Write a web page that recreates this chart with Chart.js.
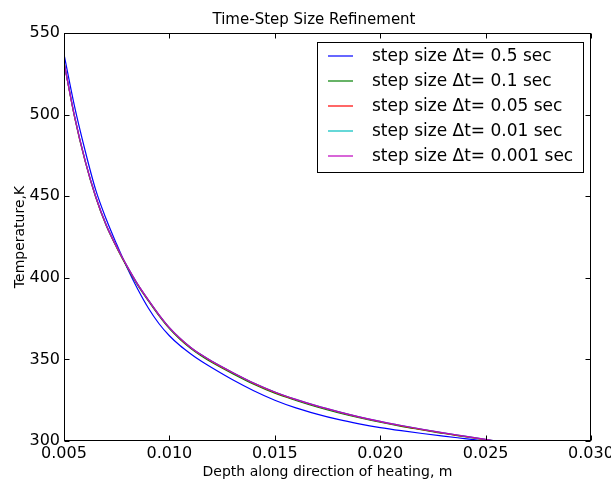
<!DOCTYPE html>
<html>
<head>
<meta charset="utf-8">
<script src="https://cdn.jsdelivr.net/npm/chart.js@4.4.1/dist/chart.umd.min.js"></script>
<style>
  html, body { margin: 0; padding: 0; background: #fff; }
  #wrap { width: 611px; height: 480px; }
</style>
</head>
<body>
<div id="wrap"><canvas id="chart" width="611" height="480"></canvas></div>
<script>
// depth (m) at which the curves were read
const depth = [0.005, 0.0055, 0.006, 0.0065, 0.007, 0.0075, 0.008, 0.0085, 0.009, 0.0095,
  0.010, 0.0105, 0.011, 0.0115, 0.012, 0.013, 0.014, 0.015, 0.016, 0.017,
  0.018, 0.019, 0.020, 0.021, 0.022, 0.023, 0.024, 0.025, 0.0255];

// temperature (K) for each time step
const temp05 = [537, 505, 478, 454, 436, 420.5, 406, 393, 381.5, 372,
  364.5, 358.5, 353.5, 349, 345, 337.5, 330.8, 325, 320.3, 316.5,
  313.2, 310.5, 308.2, 306.3, 304.6, 303, 301.5, 300, 299.2];
const temp01 = [532, 498.5, 471.5, 449.5, 432, 418.5, 406.3, 395.3, 385.8, 376.8,
  368.8, 362.3, 356.8, 352.3, 348.3, 341.3, 334.8, 329.3, 324.9, 320.9,
  317.4, 314.3, 311.5, 309, 306.8, 304.6, 302.7, 300.7, 299.7];
const temp005 = [532, 498.8, 471.8, 449.8, 432.3, 418.8, 406.8, 395.8, 386.3, 377.3,
  369.3, 362.8, 357.3, 352.8, 348.8, 341.8, 335.3, 329.8, 325.3, 321.3,
  317.8, 314.6, 311.8, 309.3, 307, 304.8, 302.8, 300.8, 299.8];
const temp001 = [532, 499, 472, 450, 432.5, 419, 407, 396, 386.5, 377.5,
  369.5, 363, 357.5, 353, 349, 342, 335.5, 330, 325.5, 321.5,
  318, 314.8, 312, 309.5, 307.2, 305, 303, 301, 300];
const temp0001 = [532, 499, 472, 450, 432.5, 419, 407, 396, 386.5, 377.5,
  369.5, 363, 357.5, 353, 349, 342, 335.5, 330, 325.5, 321.5,
  318, 314.8, 312, 309.5, 307.2, 305, 303, 301, 300];

const seriesNames = ["step size \u0394t= 0.5 sec", "step size \u0394t= 0.1 sec",
  "step size \u0394t= 0.05 sec", "step size \u0394t= 0.01 sec", "step size \u0394t= 0.001 sec"];
const seriesColors = ["#0000ff", "#008000", "#ff0000", "#00bfbf", "#bf00bf"];
const seriesTemps = [temp05, temp01, temp005, temp001, temp0001];

const xTicks = [0.005, 0.010, 0.015, 0.020, 0.025, 0.030];
const yTicks = [300, 350, 400, 450, 500, 550];

const FONT = "'DejaVu Sans', sans-serif";

const datasets = seriesTemps.map((temps, i) => ({
  label: seriesNames[i],
  data: depth.map((d, j) => ({ x: d, y: temps[j] })),
  borderColor: seriesColors[i],
  backgroundColor: seriesColors[i],
  borderWidth: 1.2,
  pointRadius: 0,
  fill: false,
  cubicInterpolationMode: "monotone",
  order: seriesTemps.length - i   // last series on top, like matplotlib
}));

// frame, inward ticks on all four sides, title, axis labels, legend box
const decorations = {
  id: "decorations",
  afterDatasetsDraw(chart) {
    const { ctx, chartArea: a, scales } = chart;
    const L = Math.round(a.left) + 0.5, R = Math.round(a.right) - 0.5;
    const T = Math.round(a.top) + 0.5, B = Math.round(a.bottom) - 0.5;
    ctx.save();
    ctx.strokeStyle = "#000";
    ctx.lineWidth = 1;
    ctx.strokeRect(L, T, R - L, B - T);

    ctx.beginPath();
    xTicks.forEach(v => {
      const px = Math.round(scales.x.getPixelForValue(v)) + 0.5;
      ctx.moveTo(px, B); ctx.lineTo(px, B - 5);
      ctx.moveTo(px, T); ctx.lineTo(px, T + 5);
    });
    yTicks.forEach(v => {
      const py = Math.round(scales.y.getPixelForValue(v)) + 0.5;
      ctx.moveTo(L, py); ctx.lineTo(L + 5, py);
      ctx.moveTo(R, py); ctx.lineTo(R - 5, py);
    });
    ctx.stroke();

    ctx.fillStyle = "#000";
    ctx.textAlign = "center";
    ctx.textBaseline = "middle";
    ctx.font = "15px " + FONT;
    ctx.fillText("Time-Step Size Refinement", 314, 20);
    ctx.font = "14px " + FONT;
    ctx.fillText("Depth along direction of heating, m", (a.left + a.right) / 2, 472);
    ctx.save();
    ctx.translate(20, (a.top + a.bottom) / 2);
    ctx.rotate(-Math.PI / 2);
    ctx.fillText("Temperature,K", 0, 0);
    ctx.restore();

    // legend
    const bx = a.right - 274, by = a.top + 9, bw = 266, bh = 130;
    ctx.fillStyle = "#fff";
    ctx.fillRect(bx, by, bw, bh);
    ctx.strokeRect(Math.round(bx) + 0.5, Math.round(by) + 0.5, bw, bh);
    ctx.font = "17px " + FONT;
    ctx.textAlign = "left";
    chart.data.datasets.forEach((ds, i) => {
      const cy = by + 14 + i * 25;
      ctx.strokeStyle = ds.borderColor;
      ctx.lineWidth = 1.2;
      ctx.beginPath();
      ctx.moveTo(bx + 11, cy); ctx.lineTo(bx + 36, cy);
      ctx.stroke();
      ctx.fillStyle = "#000";
      ctx.fillText(ds.label, bx + 55, cy + 1);
    });
    ctx.restore();
  }
};

const noEdgePadding = s => { s.paddingLeft = 0; s.paddingRight = 0; s.paddingTop = 0; s.paddingBottom = 0; };

new Chart(document.getElementById("chart"), {
  type: "line",
  data: { datasets },
  options: {
    responsive: false,
    animation: false,
    layout: { padding: { left: 0, right: 20, top: 33, bottom: 0 } },
    plugins: { legend: { display: false }, tooltip: { enabled: false }, title: { display: false } },
    scales: {
      x: {
        type: "linear",
        min: 0.005,
        max: 0.030,
        afterBuildTicks: s => { s.ticks = xTicks.map(v => ({ value: v })); },
        afterFit: s => { s.height = 39; noEdgePadding(s); },
        grid: { display: false, drawTicks: false },
        border: { display: false },
        ticks: {
          autoSkip: false, maxRotation: 0, padding: 3, color: "#000",
          font: { family: FONT, size: 16 },
          callback: v => v.toFixed(3)
        }
      },
      y: {
        min: 300,
        max: 550,
        afterBuildTicks: s => { s.ticks = yTicks.map(v => ({ value: v })); },
        afterFit: s => { s.width = 64; noEdgePadding(s); },
        grid: { display: false, drawTicks: false },
        border: { display: false },
        ticks: {
          autoSkip: false, padding: 4, color: "#000",
          font: { family: FONT, size: 16 },
          callback: v => String(v)
        }
      }
    }
  },
  plugins: [decorations]
});
</script>
</body>
</html>
